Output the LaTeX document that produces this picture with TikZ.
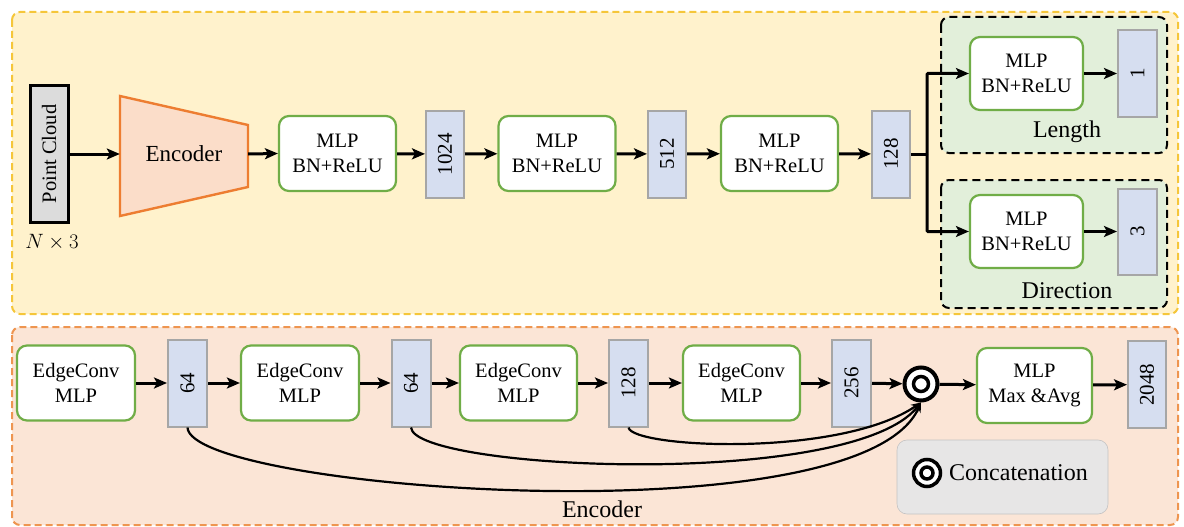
\documentclass[tikz,border=0pt]{standalone}
\usepackage{fontspec}
\usepackage{graphicx}
\setmainfont{Liberation Serif}
\usetikzlibrary{arrows.meta}
\definecolor{ybg}{HTML}{FFF2CC}
\definecolor{ybd}{HTML}{F5C63A}
\definecolor{obg}{HTML}{FBE5D6}
\definecolor{obd}{HTML}{EE9550}
\definecolor{gbd}{HTML}{70AD47}
\definecolor{vbg}{HTML}{D6DEF0}
\definecolor{vbd}{HTML}{A6A6A6}
\definecolor{gbg}{HTML}{E2EFDA}
\definecolor{lgbg}{HTML}{E7E6E6}
\definecolor{encbd}{HTML}{ED7D31}
\definecolor{encbg}{HTML}{FBDDC9}
\definecolor{pcbg}{HTML}{DCDCDC}
\begin{document}
\begin{tikzpicture}[x=1pt,y=-1pt,
  font=\fontsize{20.5}{25}\selectfont,
  mlpbox/.style={draw=gbd, line width=2.2pt, fill=white, rounded corners=10pt,
    minimum width=117pt, minimum height=75pt, align=center, inner sep=0pt},
  vecbox/.style={draw=vbd, line width=2pt, fill=vbg, minimum width=38pt,
    minimum height=87pt, inner sep=0pt, font=\fontsize{21}{25}\selectfont},
  arr/.style={line width=3pt, -{Stealth[length=13pt,width=11pt,inset=3pt]}},
  curv/.style={line width=2.2pt, -{Stealth[length=10pt,width=8pt]}},
  grpbox/.style={draw=black, line width=2pt, dash pattern=on 8pt off 5pt,
    fill=gbg, rounded corners=8pt},
  bigtxt/.style={font=\fontsize{24}{28}\selectfont, inner sep=0pt}
]
\useasboundingbox (0,0) rectangle (1184,527);
% outer panels
\draw[ybd, line width=2pt, dash pattern=on 7pt off 4pt, fill=ybg, rounded corners=8pt]
  (12,12) rectangle (1178,314);
\draw[obd, line width=2pt, dash pattern=on 7pt off 4pt, fill=obg, rounded corners=8pt]
  (12,327) rectangle (1178,525);
% branch group boxes
\draw[grpbox] (941,17) rectangle (1167,153);
\draw[grpbox] (941,180) rectangle (1167,308);
\node[bigtxt] (lenlbl) at (1067,132) {Length};
\node[bigtxt] (dirlbl) at (1067,291) {Direction};

% top row
\node[draw=black, line width=3pt, fill=pcbg, minimum width=38pt, minimum height=137pt, inner sep=0pt]
  (pc) at (49,154) {\rotatebox{90}{Point Cloud}};
\node[inner sep=0pt] (n3) at (52,242) {$N\times 3$};
\draw[encbd, line width=2.4pt, fill=encbg, line join=miter]
  (120,96) -- (248,125) -- (248,187) -- (120,216) -- cycle;
\node[minimum width=128pt, minimum height=62pt, inner sep=0pt, font=\fontsize{23}{27}\selectfont]
  (enc) at (184,154) {Encoder};
\node[mlpbox] (m1) at (337.5,153.5) {MLP\\BN+ReLU};
\node[vecbox] (v1024) at (445,154) {\rotatebox{90}{1024}};
\node[mlpbox] (m2) at (557,153.5) {MLP\\BN+ReLU};
\node[vecbox] (v512) at (667,154) {\rotatebox{90}{512}};
\node[mlpbox] (m3) at (779.5,153.5) {MLP\\BN+ReLU};
\node[vecbox] (v128) at (891,154) {\rotatebox{90}{128}};
\coordinate (j) at (927,154);
\node[mlpbox, minimum width=113pt, minimum height=73pt] (mL) at (1026.5,73.5) {MLP\\BN+ReLU};
\node[vecbox, minimum width=39pt, minimum height=86pt] (v1) at (1137.5,73.5) {\rotatebox{90}{1}};
\node[mlpbox, minimum width=113pt, minimum height=73pt] (mD) at (1026.5,231.5) {MLP\\BN+ReLU};
\node[vecbox, minimum width=39pt, minimum height=86pt] (v3) at (1137.5,231.5) {\rotatebox{90}{3}};

\draw[arr] (pc.east) -- (enc.west);
\draw[arr] (enc.east) -- (m1.west);
\draw[arr] (m1) -- (v1024);
\draw[arr] (v1024) -- (m2);
\draw[arr] (m2) -- (v512);
\draw[arr] (v512) -- (m3);
\draw[arr] (m3) -- (v128);
\draw[line width=3pt] (v128.east) -- (j);
\draw[arr, rounded corners=1pt] (j) |- (mL.west);
\draw[arr, rounded corners=1pt] (j) |- (mD.west);
\draw[arr] (mL) -- (v1);
\draw[arr] (mD) -- (v3);

% bottom row
\node[mlpbox, minimum width=118pt] (e1) at (76,383) {EdgeConv\\MLP};
\node[vecbox, minimum width=39pt] (v64a) at (187.5,383) {\rotatebox{90}{64}};
\node[mlpbox, minimum width=118pt] (e2) at (300,383) {EdgeConv\\MLP};
\node[vecbox, minimum width=39pt] (v64b) at (411,383) {\rotatebox{90}{64}};
\node[mlpbox, minimum width=117pt] (e3) at (518.5,383) {EdgeConv\\MLP};
\node[vecbox, minimum width=39pt] (v128b) at (628.5,383) {\rotatebox{90}{128}};
\node[mlpbox, minimum width=117pt] (e4) at (741.5,383) {EdgeConv\\MLP};
\node[vecbox, minimum width=39pt] (v256) at (851.5,383) {\rotatebox{90}{256}};
\node[circle, draw=black, line width=4pt, fill=white, minimum size=33pt, inner sep=0pt] (cc) at (921,384) {};
\draw[line width=3.5pt] (cc.center) circle (7.5pt);
\node[mlpbox, minimum width=115pt] (mm) at (1034.5,385.5) {MLP\\Max \&Avg};
\node[vecbox] (v2048) at (1147,384.5) {\rotatebox{90}{2048}};

\draw[arr] (e1) -- (v64a);
\draw[arr] (v64a) -- (e2);
\draw[arr] (e2) -- (v64b);
\draw[arr] (v64b) -- (e3);
\draw[arr] (e3) -- (v128b);
\draw[arr] (v128b) -- (e4);
\draw[arr] (e4) -- (v256);
\draw[arr] (v256) -- (cc);
\draw[arr] (cc) -- (mm);
\draw[arr] (mm) -- (v2048);

\draw[curv] (v64a.south) .. controls (190,490) and (860,540) .. (cc.south);
\draw[curv] (v64b.south) .. controls (414,470) and (850,490) .. (cc.south);
\draw[curv] (v128b.south) .. controls (632,448) and (840,458) .. (cc.south);

\node[bigtxt] (enclbl) at (602,509) {Encoder};

% legend
\draw[fill=lgbg, draw=lgbg!85!black, line width=0.6pt, rounded corners=10pt] (897,440) rectangle (1108,514);
\node[circle, draw=black, line width=3.5pt, fill=white, minimum size=27pt, inner sep=0pt] (lc) at (927,473) {};
\draw[line width=3.5pt] (lc.center) circle (6pt);
\node[bigtxt, anchor=west] (lctxt) at (949,473) {Concatenation};
\end{tikzpicture}
\end{document}
